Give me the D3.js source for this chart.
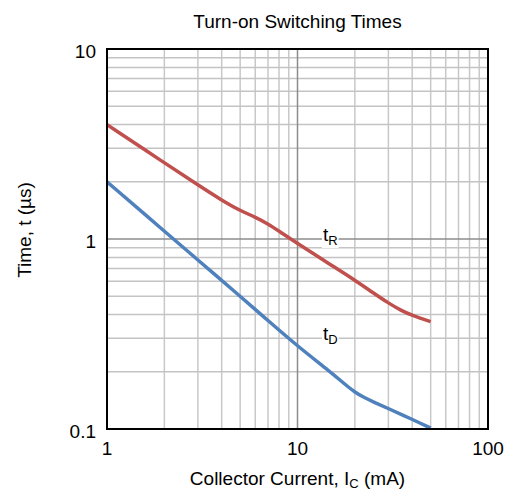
<!DOCTYPE html>
<html><head><meta charset="utf-8">
<script src="https://cdn.jsdelivr.net/npm/d3@7"></script>
<style>
body{margin:0;background:#fff}
svg{display:block;font-family:"Liberation Sans",Arial,sans-serif}
</style>
</head><body>
<svg id="chart" width="513" height="497"></svg>
<script>
// ---- data ----
const tR_current = [1, 2, 3, 4, 5, 6, 7, 8, 10, 15, 20, 25, 30, 35, 40, 50];
const tR_time    = [4.0, 2.52, 1.925, 1.60, 1.41, 1.305, 1.20, 1.10, 0.947, 0.73, 0.608, 0.52, 0.46, 0.42, 0.396, 0.367];
const tD_current = [1, 2, 3, 5, 7, 10, 15, 17.5, 20, 22.5, 25, 30, 40, 50];
const tD_time    = [2.0, 1.1, 0.775, 0.5, 0.372, 0.273, 0.1985, 0.174, 0.156, 0.146, 0.139, 0.128, 0.1125, 0.101];
const xTickValues = [1, 10, 100];
const xTickLabels = ["1", "10", "100"];
const yTickValues = [0.1, 1, 10];
const yTickLabels = ["0.1", "1", "10"];
const titleText = "Turn-on Switching Times";
const seriesLabels = [{main: "t", sub: "R"}, {main: "t", sub: "D"}];
const labelAnchors = [[13.6, 1.0], [13.6, 0.3]];

// ---- layout ----
const L = 107, R = 488, T = 49, B = 429;
const svg = d3.select("#chart");

const x = d3.scaleLog().domain([1, 100]).range([L, R]);
const y = d3.scaleLog().domain([0.1, 10]).range([B, T]);

// gridlines
const minorX = [], minorY = [];
[1, 10].forEach(d => { for (let k = 2; k <= 9; k++) minorX.push(d * k); });
[0.1, 1].forEach(d => { for (let k = 2; k <= 9; k++) minorY.push(d * k); });

const grid = svg.append("g");
grid.selectAll(".vx").data(minorX).enter().append("line")
  .attr("x1", d => x(d)).attr("x2", d => x(d)).attr("y1", T).attr("y2", B)
  .attr("stroke", "#c8c8c8").attr("stroke-width", 1.5);
grid.selectAll(".hy").data(minorY).enter().append("line")
  .attr("y1", d => y(d)).attr("y2", d => y(d)).attr("x1", L).attr("x2", R)
  .attr("stroke", "#c4c4c4").attr("stroke-width", 1.5);
grid.selectAll(".vmaj").data([10]).enter().append("line")
  .attr("x1", d => x(d)).attr("x2", d => x(d)).attr("y1", T).attr("y2", B)
  .attr("stroke", "#8c8c8c").attr("stroke-width", 1.5);
grid.selectAll(".hmaj").data([1]).enter().append("line")
  .attr("y1", d => y(d)).attr("y2", d => y(d)).attr("x1", L).attr("x2", R)
  .attr("stroke", "#8c8c8c").attr("stroke-width", 1.5);

// curves
const line = d3.line().x(d => x(d[0])).y(d => y(d[1])).curve(d3.curveBasis);
const series = [
  {pts: d3.zip(tR_current, tR_time), color: "#c0504d"},
  {pts: d3.zip(tD_current, tD_time), color: "#4f81bd"}
];
svg.selectAll(".curve").data(series).enter().append("path")
  .attr("d", d => line(d.pts)).attr("fill", "none")
  .attr("stroke", d => d.color).attr("stroke-width", 3.5)
  .attr("stroke-linejoin", "round").attr("stroke-linecap", "butt");

// series labels with white background
seriesLabels.forEach((lab, i) => {
  const ax = x(labelAnchors[i][0]), ay = y(labelAnchors[i][1]);
  const g = svg.append("g");
  const rect = g.append("rect").attr("fill", "#fff");
  const t = g.append("text").attr("x", ax).attr("y", ay + 2).attr("font-size", 19).attr("fill", "#000");
  t.append("tspan").text(lab.main);
  t.append("tspan").attr("font-size", 13).attr("dy", 4).text(lab.sub);
  const bb = t.node().getBBox();
  rect.attr("x", bb.x - 1).attr("y", bb.y + 2).attr("width", bb.width + 2).attr("height", bb.height - 2);
});

// frame
svg.append("rect").attr("x", L).attr("y", T).attr("width", R - L).attr("height", B - T)
  .attr("fill", "none").attr("stroke", "#000").attr("stroke-width", 2);

// tick labels
svg.selectAll(".xt").data(xTickValues).enter().append("text")
  .attr("x", d => x(d)).attr("y", B + 26).attr("text-anchor", "middle")
  .attr("font-size", 19).text((d, i) => xTickLabels[i]);
svg.selectAll(".yt").data(yTickValues).enter().append("text")
  .attr("x", L - 11).attr("y", d => y(d) + 9).attr("text-anchor", "end")
  .attr("font-size", 19).text((d, i) => yTickLabels[i]);

// title
svg.append("text").attr("x", (L + R) / 2).attr("y", 28).attr("text-anchor", "middle")
  .attr("font-size", 19).text(titleText);

// x axis label
const xl = svg.append("text").attr("x", (L + R) / 2).attr("y", 485).attr("text-anchor", "middle").attr("font-size", 19);
xl.append("tspan").text("Collector Current, I");
xl.append("tspan").attr("font-size", 13).attr("dy", 3).text("C");
xl.append("tspan").attr("dy", -3).text(" (mA)");

// y axis label
svg.append("text").attr("transform", "translate(31,230) rotate(-90)")
  .attr("text-anchor", "middle").attr("font-size", 19).text("Time, t (µs)");
</script>
</body></html>
